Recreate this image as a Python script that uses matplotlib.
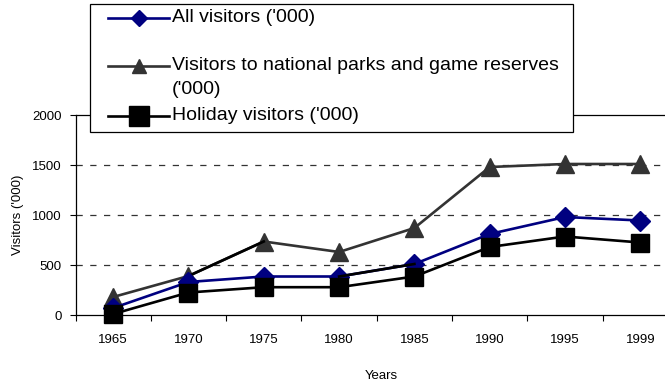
import matplotlib
matplotlib.use('Agg')
import matplotlib.pyplot as plt
from matplotlib.lines import Line2D
from matplotlib.patches import Rectangle

plt.rcParams['font.family'] = ['Liberation Sans', 'DejaVu Sans']

# data
years = ['1965', '1970', '1975', '1980', '1985', '1990', '1995', '1999']
all_visitors = [70, 330, 385, 385, 510, 810, 980, 945]
park_visitors = [180, 390, 735, 630, 870, 1480, 1510, 1510]
holiday_visitors = [10, 225, 278, 278, 385, 680, 785, 725]
yticks = [0, 500, 1000, 1500, 2000]

W, H = 665, 386
fig = plt.figure(figsize=(W / 100, H / 100), dpi=100)

def fx(px):
    return px / W

def fy(py):
    return 1 - py / H

# axes box in pixels: left 75, right 678 (runs past the image edge), top 115, bottom 315
ax = fig.add_axes([fx(75.5), fy(315), fx(678 - 75.5), (315 - 115) / H])

x = list(range(len(years)))
navy = '#000080'
grey = '#333333'

ax.plot(x, park_visitors, color=grey, lw=1.9, marker='^', ms=13,
        mfc=grey, mec=grey, zorder=3, clip_on=False)
ax.plot(x, all_visitors, color=navy, lw=1.9, marker='D', ms=10,
        mfc=navy, mec=navy, zorder=4, clip_on=False)
ax.plot(x, holiday_visitors, color='black', lw=1.9, marker='s', ms=13,
        mfc='black', mec='black', zorder=5, clip_on=False)
# a few segments show up black in the original rendering
ax.plot(x[1:3], park_visitors[1:3], color='black', lw=1.9, zorder=3.5)
ax.plot(x[3:5], all_visitors[3:5], color='black', lw=1.9, zorder=4.5)

ax.set_xlim(-0.5, len(years) - 0.5)
ax.set_ylim(0, 2000)
ax.set_yticks(yticks)
ax.set_yticklabels([str(v) for v in yticks], fontsize=9.5)

# ticks between categories, labels under categories
ax.set_xticks([i - 0.5 for i in range(len(years) + 1)])
ax.set_xticklabels([])
ax.set_xticks(x, minor=True)
ax.set_xticklabels(years, minor=True, fontsize=9.5)
ax.tick_params(axis='x', which='major', direction='out', length=4, width=0.8)
ax.tick_params(axis='x', which='minor', length=0, pad=14)
ax.tick_params(axis='y', direction='out', length=4, width=0.8, pad=6)

for v in yticks[1:-1]:
    ax.axhline(v, color='#333333', lw=0.9, ls=(0, (5, 6)), zorder=1)

ax.spines['right'].set_visible(False)
for s in ['left', 'bottom', 'top']:
    ax.spines[s].set_linewidth(0.9)

ax.set_xlabel('Years', fontsize=9.5)
ax.set_ylabel("Visitors ('000)", fontsize=9.5, labelpad=6)
ax.xaxis.set_label_coords((381 - 75.5) / (678 - 75.5), -(370 - 315) / 200)

# legend drawn by hand
fig.add_artist(Rectangle((fx(90), fy(132)), fx(573 - 90), (132 - 4) / H,
                         facecolor='white', edgecolor='black', lw=0.9,
                         transform=fig.transFigure, zorder=10))
entries = [
    (18, navy, 'D', 8.5, "All visitors ('000)"),
    (66, grey, '^', 10, "Visitors to national parks and game reserves"),
    (116, 'black', 's', 14, "Holiday visitors ('000)"),
]
for py, c, m, ms, label in entries:
    fig.add_artist(Line2D([fx(108), fx(169)], [fy(py), fy(py)], color=c, lw=1.9,
                          transform=fig.transFigure, zorder=11))
    fig.add_artist(Line2D([fx(138.5)], [fy(py)], color=c, marker=m, ms=ms,
                          mfc=c, mec=c, transform=fig.transFigure, zorder=12))
    fig.text(fx(172), fy(py), label, fontsize=14, va='center', ha='left', zorder=12)
fig.text(fx(172), fy(90), "('000)", fontsize=14, va='center', ha='left', zorder=12)

fig.savefig('out.png', dpi=100)
